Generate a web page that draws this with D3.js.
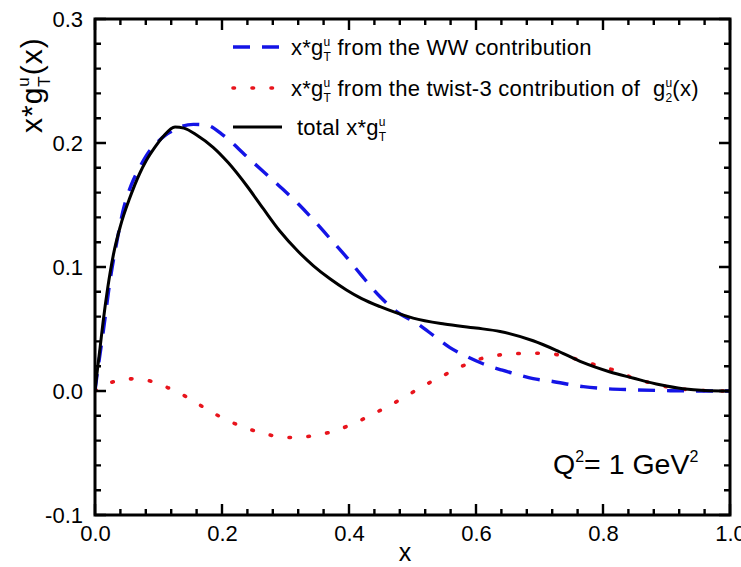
<!DOCTYPE html>
<html>
<head>
<meta charset="utf-8">
<script src="https://cdn.jsdelivr.net/npm/d3@7"></script>
<style>
  html, body { margin: 0; padding: 0; background: #fff; }
  svg { display: block; }
  text { font-family: "Liberation Sans", Arial, sans-serif; fill: #000; white-space: pre; }
</style>
</head>
<body>
<svg id="chart" width="741" height="567"></svg>
<script>
// x * g_T^u(x) at Q^2 = 1 GeV^2: Wandzura-Wilczek part, twist-3 part and their sum

const xTicks = [0.0, 0.2, 0.4, 0.6, 0.8, 1.0];
const yTicks = [-0.1, 0.0, 0.1, 0.2, 0.3];

// total x*g_T^u
const totalX = [0, 0.004, 0.008, 0.0126, 0.02, 0.029, 0.04, 0.055, 0.07, 0.081, 0.095, 0.107, 0.126, 0.14, 0.16, 0.186, 0.21, 0.239, 0.265, 0.291, 0.32, 0.344, 0.37, 0.396, 0.42, 0.449, 0.475, 0.501, 0.55, 0.6, 0.638, 0.69, 0.73, 0.768, 0.81, 0.847, 0.89, 0.926, 0.96, 1.0];
const totalY = [0, 0.018, 0.035, 0.055, 0.083, 0.110, 0.133, 0.156, 0.175, 0.186, 0.197, 0.205, 0.213, 0.212, 0.2065, 0.1965, 0.184, 0.1655, 0.147, 0.129, 0.1125, 0.101, 0.0905, 0.0815, 0.0745, 0.068, 0.063, 0.0588, 0.054, 0.0508, 0.048, 0.0405, 0.032, 0.023, 0.0155, 0.0105, 0.005, 0.0018, 0.0004, 0];

// WW contribution
const wwX = [0, 0.004, 0.008, 0.013, 0.024, 0.035, 0.044, 0.057, 0.071, 0.085, 0.097, 0.11, 0.123, 0.134, 0.155, 0.175, 0.2, 0.239, 0.265, 0.291, 0.32, 0.344, 0.37, 0.396, 0.42, 0.449, 0.475, 0.507, 0.535, 0.559, 0.585, 0.611, 0.64, 0.664, 0.69, 0.717, 0.769, 0.8, 0.847, 0.9, 0.95, 1.0];
const wwY = [0, 0.016, 0.03, 0.048, 0.090, 0.122, 0.145, 0.166, 0.181, 0.193, 0.200, 0.206, 0.210, 0.213, 0.215, 0.2145, 0.207, 0.189, 0.177, 0.165, 0.151, 0.138, 0.123, 0.108, 0.093, 0.076, 0.064, 0.0545, 0.044, 0.035, 0.028, 0.022, 0.017, 0.0135, 0.010, 0.008, 0.0035, 0.002, 0.001, 0.0003, 0, 0];

// twist-3 contribution of g_2^u
const tw3X = [0, 0.015, 0.029, 0.045, 0.059, 0.075, 0.087, 0.1, 0.115, 0.13, 0.145, 0.172, 0.2, 0.229, 0.259, 0.287, 0.316, 0.344, 0.373, 0.402, 0.43, 0.458, 0.487, 0.515, 0.543, 0.572, 0.601, 0.63, 0.659, 0.69, 0.717, 0.745, 0.769, 0.795, 0.822, 0.847, 0.875, 0.9, 0.93, 0.96, 1.0];
const tw3Y = [0, 0.0045, 0.0075, 0.0093, 0.0098, 0.0092, 0.008, 0.0058, 0.0026, -0.001, -0.005, -0.0134, -0.0215, -0.0282, -0.0333, -0.0366, -0.0376, -0.036, -0.0328, -0.0274, -0.0207, -0.0132, -0.0051, 0.0035, 0.011, 0.0185, 0.025, 0.0285, 0.030, 0.0305, 0.030, 0.0275, 0.024, 0.020, 0.016, 0.0105, 0.0065, 0.0035, 0.0013, 0.0003, 0];

const W = 741, H = 567;
const margin = { left: 95, right: 11, top: 19, bottom: 52 };
const iw = W - margin.left - margin.right;
const ih = H - margin.top - margin.bottom;

const svg = d3.select("#chart");
const g = svg.append("g").attr("transform", `translate(${margin.left},${margin.top})`);

const x = d3.scaleLinear().domain([0, 1]).range([0, iw]);
const y = d3.scaleLinear().domain([-0.1, 0.3]).range([ih, 0]);

const fmt = d => d.toFixed(1);
const xMinor = d3.range(0, 1.0001, 0.04).map(v => +v.toFixed(2));
const yMinor = d3.range(-0.1, 0.3001, 0.02).map(v => +v.toFixed(2));
const isMajor = (v, list) => list.some(t => Math.abs(t - v) < 1e-9);

// tick labels
function styleLabels(sel) {
  sel.select(".domain").remove();
  sel.selectAll(".tick line").remove();
  sel.selectAll(".tick text").attr("font-size", 22).attr("font-family", "Liberation Sans, Arial, sans-serif");
}
g.append("g").attr("transform", `translate(0,${ih})`)
  .call(d3.axisBottom(x).tickValues(xTicks).tickFormat(fmt).tickSize(0).tickPadding(10))
  .call(styleLabels);
g.append("g")
  .call(d3.axisLeft(y).tickValues(yTicks).tickFormat(fmt).tickSize(0).tickPadding(12))
  .call(styleLabels);

// curves
g.append("clipPath").attr("id", "plotclip")
  .append("rect").attr("width", iw).attr("height", ih);
const line = d3.line().x(d => x(d[0])).y(d => y(d[1])).curve(d3.curveMonotoneX);
const zip = (a, b) => a.map((v, i) => [v, b[i]]);

const curves = g.append("g").attr("clip-path", "url(#plotclip)");
const styles = {
  ww:  { stroke: "#1414e6", width: 3.4, dash: "17,12", cap: "butt" },
  tw3: { stroke: "#e8141c", width: 3.6, dash: "1.5,17.5", cap: "round" },
  tot: { stroke: "#000", width: 3, dash: null, cap: "butt" }
};
function drawCurve(data, st) {
  curves.append("path").datum(data).attr("d", line)
    .attr("fill", "none").attr("stroke", st.stroke).attr("stroke-width", st.width)
    .attr("stroke-dasharray", st.dash).attr("stroke-linecap", st.cap);
}
drawCurve(zip(tw3X, tw3Y), styles.tw3);
drawCurve(zip(wwX, wwY), styles.ww);
drawCurve(zip(totalX, totalY), styles.tot);

// frame
g.append("rect").attr("x", 0).attr("y", 0).attr("width", iw).attr("height", ih)
  .attr("fill", "none").attr("stroke", "#000").attr("stroke-width", 3);

// inward tick marks on all four sides, as one path
const tickPath = d3.path();
xMinor.forEach(v => {
  const len = isMajor(v, xTicks) ? 11 : 6;
  tickPath.moveTo(x(v), ih); tickPath.lineTo(x(v), ih - len);
  tickPath.moveTo(x(v), 0); tickPath.lineTo(x(v), len);
});
yMinor.forEach(v => {
  const len = isMajor(v, yTicks) ? 11 : 6;
  tickPath.moveTo(0, y(v)); tickPath.lineTo(len, y(v));
  tickPath.moveTo(iw, y(v)); tickPath.lineTo(iw - len, y(v));
});
g.append("path").attr("d", tickPath.toString())
  .attr("fill", "none").attr("stroke", "#000").attr("stroke-width", 2.4);

// rich text helper: runs of normal text and stacked super/subscripts
function rich(parent, x0, y0, parts, fs, ls) {
  let cx = x0;
  const sfs = Math.round(fs * 0.56);
  parts.forEach(p => {
    if (p.t !== undefined) {
      const t = parent.append("text").attr("x", cx).attr("y", y0).attr("font-size", fs)
        .attr("letter-spacing", ls || 0).text(p.t);
      cx += t.node().getComputedTextLength();
    } else {
      let w = 0;
      if (p.sup) {
        const t = parent.append("text").attr("x", cx).attr("y", y0 - fs * 0.42).attr("font-size", sfs).text(p.sup);
        w = Math.max(w, t.node().getComputedTextLength());
      }
      if (p.sub) {
        const t = parent.append("text").attr("x", cx).attr("y", y0 + fs * 0.28).attr("font-size", sfs).text(p.sub);
        w = Math.max(w, t.node().getComputedTextLength());
      }
      cx += w + (ls || 0);
    }
  });
  return cx;
}

// legend
const leg = svg.append("g");
const legRows = [
  { y: 47, st: styles.ww, parts: [{ t: "x*g" }, { sup: "u", sub: "T" }, { t: " from the WW contribution" }] },
  { y: 88, st: styles.tw3, parts: [{ t: "x*g" }, { sup: "u", sub: "T" }, { t: " from the twist-3 contribution of  g" }, { sup: "u", sub: "2" }, { t: "(x)" }] },
  { y: 127, st: styles.tot, parts: [{ t: "total x*g" }, { sup: "u", sub: "T" }] }
];
legRows.forEach((r, i) => {
  leg.append("line").attr("x1", 233).attr("x2", i === 2 ? 282 : 280).attr("y1", r.y).attr("y2", r.y)
    .attr("stroke", r.st.stroke).attr("stroke-width", r.st.width)
    .attr("stroke-dasharray", r.st.dash).attr("stroke-linecap", r.st.cap);
  rich(leg, i === 2 ? 297 : 291, r.y + 8, r.parts, 22, 0.25);
});

// Q^2 annotation
rich(svg.append("g"), 553, 474, [{ t: "Q" }, { sup: "2" }, { t: "= 1 GeV" }, { sup: "2" }], 28.5);

// axis titles
svg.append("text").attr("x", 405).attr("y", 561).attr("text-anchor", "middle")
  .attr("font-size", 25).text("x");
const yt = svg.append("g").attr("transform", "translate(42,133) rotate(-90)");
rich(yt, 0, 0, [{ t: "x*g" }, { sup: "u", sub: "T" }, { t: "(x)" }], 30, 1);
</script>
</body>
</html>
